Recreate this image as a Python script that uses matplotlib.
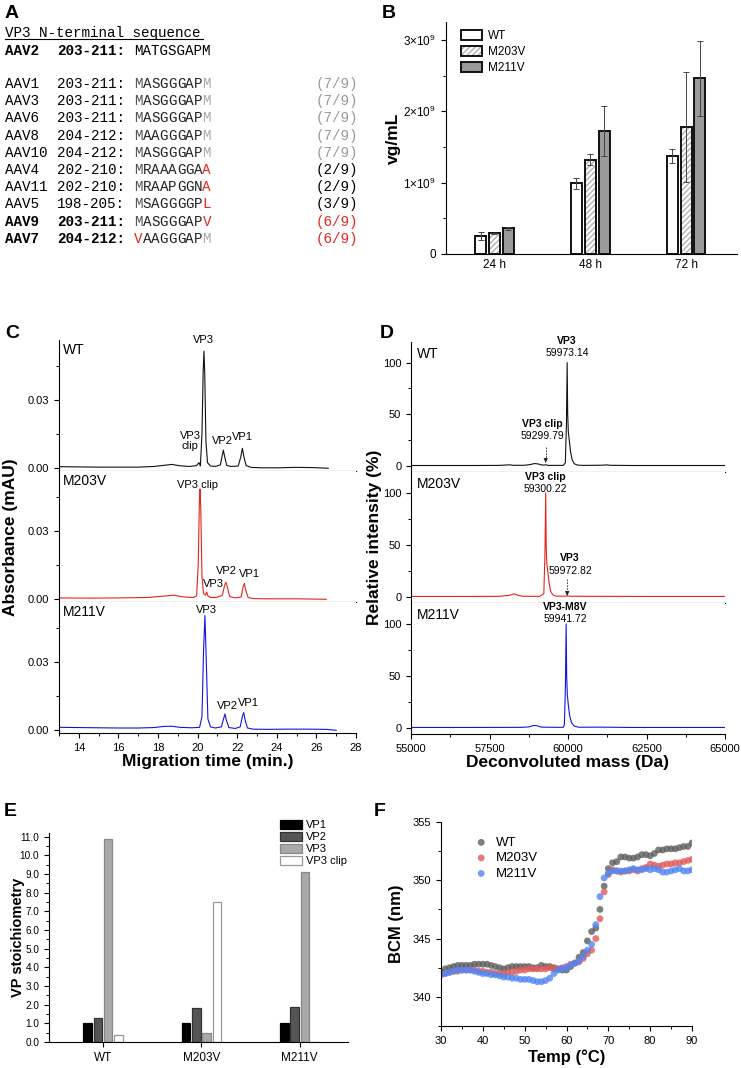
import matplotlib.pyplot as plt
from matplotlib.patches import Patch
from matplotlib.lines import Line2D
from matplotlib.ticker import MultipleLocator, FixedLocator

W, H = 741, 1068
plt.rcParams['font.family'] = ['Liberation Sans', 'DejaVu Sans']
plt.rcParams['mathtext.fontset'] = 'custom'
plt.rcParams['mathtext.rm'] = 'Liberation Sans'
plt.rcParams['mathtext.it'] = 'Liberation Sans:italic'
plt.rcParams['axes.linewidth'] = 0.8

RED = '#e8251f'

# ---------------- data ----------------
# A: VP3 N-terminal sequences
a_names = ['AAV1', 'AAV3', 'AAV6', 'AAV8', 'AAV10', 'AAV4', 'AAV11', 'AAV5', 'AAV9', 'AAV7']
a_ranges = ['203-211:', '203-211:', '203-211:', '204-212:', '204-212:',
            '202-210:', '202-210:', '198-205:', '203-211:', '204-212:']
a_seqs = ['MASGGGAPM', 'MASGGGAPM', 'MASGGGAPM', 'MAAGGGAPM', 'MASGGGAPM',
          'MRAAAGGAA', 'MRAAPGGNA', 'MSAGGGGPL', 'MASGGGAPV', 'VAAGGGAPM']
a_fracs = ['(7/9)', '(7/9)', '(7/9)', '(7/9)', '(7/9)',
           '(2/9)', '(2/9)', '(3/9)', '(6/9)', '(6/9)']

# B: titers
b_times = ['24 h', '48 h', '72 h']
b_wt = [0.25e9, 0.99e9, 1.37e9]
b_wt_err = [0.06e9, 0.08e9, 0.10e9]
b_m203 = [0.29e9, 1.32e9, 1.78e9]
b_m203_err = [0.01e9, 0.08e9, 0.77e9]
b_m211 = [0.36e9, 1.72e9, 2.46e9]
b_m211_err = [0.02e9, 0.35e9, 0.52e9]

# C: CE-SDS electropherograms
c_wt_t = [13.0, 14.0, 15.0, 16.0, 17.0, 17.8, 18.3, 18.7, 19.1, 19.6, 19.95, 20.07, 20.14,
          20.22, 20.28, 20.32, 20.36, 20.42, 20.50, 20.65, 20.9, 21.15, 21.23, 21.30, 21.37,
          21.47, 21.7, 22.05, 22.18, 22.26, 22.34, 22.45, 22.7, 23.2, 24.0, 25.0, 25.8, 26.6]
c_wt_a = [0.0007, 0.0006, 0.0005, 0.0005, 0.0005, 0.0008, 0.0013, 0.0017, 0.0011, 0.0008,
          0.0012, 0.0025, 0.0010, 0.0150, 0.0420, 0.0516, 0.0420, 0.0120, 0.0025, 0.0010,
          0.0008, 0.0015, 0.0050, 0.0080, 0.0050, 0.0012, 0.0008, 0.0010, 0.0050, 0.0088,
          0.0050, 0.0012, 0.0004, 0.0002, 0.0002, 0.0004, 0.0003, 0.0]
c_m203_t = [13.0, 14.5, 16.0, 17.5, 18.3, 18.8, 19.3, 19.8, 19.95, 20.03, 20.09, 20.12, 20.16,
            20.22, 20.30, 20.40, 20.46, 20.52, 20.65, 20.95, 21.25, 21.36, 21.43, 21.50, 21.62,
            21.9, 22.2, 22.30, 22.36, 22.43, 22.55, 22.8, 23.5, 25.0, 26.5]
c_m203_a = [0.0006, 0.0005, 0.0006, 0.0008, 0.0014, 0.0018, 0.0010, 0.0008, 0.0015, 0.0150,
            0.0430, 0.0485, 0.0400, 0.0100, 0.0025, 0.0018, 0.0032, 0.0015, 0.0008, 0.0008,
            0.0018, 0.0060, 0.0075, 0.0055, 0.0012, 0.0006, 0.0010, 0.0055, 0.0070, 0.0040,
            0.0008, 0.0003, 0.0002, 0.0002, 0.0]
c_m211_t = [13.0, 14.0, 15.0, 16.0, 17.0, 17.8, 18.3, 18.7, 19.1, 19.7, 20.1, 20.22, 20.30,
            20.37, 20.44, 20.52, 20.65, 20.9, 21.2, 21.31, 21.38, 21.45, 21.58, 21.9, 22.15,
            22.26, 22.33, 22.40, 22.52, 22.8, 23.5, 24.5, 25.5, 26.5, 27.0]
c_m211_a = [0.0013, 0.0012, 0.0011, 0.0010, 0.0010, 0.0012, 0.0017, 0.0018, 0.0013, 0.0011,
            0.0013, 0.0060, 0.0350, 0.0505, 0.0300, 0.0050, 0.0015, 0.0010, 0.0015, 0.0050,
            0.0072, 0.0045, 0.0012, 0.0008, 0.0015, 0.0060, 0.0078, 0.0045, 0.0010, 0.0005,
            0.0004, 0.0005, 0.0005, 0.0004, 0.0]

# D: deconvoluted mass spectra
d_wt_m = [55000, 56000, 57000, 57800, 58050, 58130, 58250, 58600, 58800, 58930, 59050, 59180,
          59260, 59300, 59360, 59850, 59915, 59950, 59973, 59990, 60010, 60040, 60080, 60130,
          60200, 60300, 60500, 61100, 61230, 61350, 62000, 63000, 64000, 65000]
d_wt_i = [0.3, 0.3, 0.3, 0.4, 0.8, 1.0, 0.5, 0.5, 1.2, 2.2, 1.8, 0.7, 0.8, 1.0, 0.4, 0.4, 3.0,
          40, 100, 50, 33, 25, 14, 6, 2, 0.7, 0.4, 0.6, 0.9, 0.5, 0.3, 0.3, 0.3, 0.3]
d_m203_m = [55000, 56500, 57800, 58150, 58280, 58400, 58550, 59100, 59230, 59265, 59290, 59305,
            59325, 59355, 59395, 59440, 59510, 59600, 59900, 59980, 60100, 61000, 62500, 65000]
d_m203_i = [0.3, 0.3, 0.4, 1.5, 2.8, 1.5, 0.5, 0.4, 3.0, 40, 100, 50, 32, 25, 14, 6, 2, 0.7,
            0.5, 0.8, 0.5, 0.4, 0.3, 0.3]
d_m211_m = [55000, 57000, 58500, 58750, 58900, 59000, 59150, 59700, 59850, 59885, 59918, 59941,
            59958, 59978, 60010, 60050, 60110, 60200, 60350, 61000, 62000, 65000]
d_m211_i = [0.3, 0.3, 0.4, 0.8, 2.2, 2.0, 0.6, 0.4, 0.5, 3.0, 40, 100, 50, 32, 22, 12, 5, 1.5,
            0.5, 0.6, 0.3, 0.3]

# E: stoichiometry
e_groups = ['WT', 'M203V', 'M211V']
e_vp1 = [1.0, 1.0, 1.0]
e_vp2 = [1.3, 1.8, 1.9]
e_vp3 = [10.9, 0.5, 9.1]
e_clip = [0.4, 7.5, 0.0]

# F: BCM vs temperature
f_temp = list(range(30, 91))
f_wt = [342.2, 342.4, 342.5, 342.6, 342.7, 342.7, 342.7, 342.7, 342.8, 342.8, 342.8, 342.8,
        342.7, 342.6, 342.5, 342.4, 342.5, 342.6, 342.6, 342.6, 342.6, 342.6, 342.5, 342.5,
        342.7, 342.6, 342.6, 342.5, 342.4, 342.3, 342.3, 342.6, 342.9, 343.4, 343.8, 344.8,
        345.6, 345.9, 347.5, 349.5, 351.0, 351.5, 351.6, 352.0, 352.0, 351.9, 351.9, 352.0,
        352.2, 352.2, 352.1, 352.3, 352.6, 352.6, 352.7, 352.7, 352.7, 352.8, 352.9, 352.9, 353.2]
f_m203 = [341.9, 342.0, 342.1, 342.2, 342.2, 342.3, 342.3, 342.3, 342.3, 342.2, 342.2, 342.1,
          342.1, 342.0, 342.0, 342.0, 342.1, 342.1, 342.2, 342.3, 342.3, 342.4, 342.4, 342.4,
          342.4, 342.4, 342.5, 342.4, 342.4, 342.5, 342.6, 342.8, 342.9, 343.0, 343.3, 343.7,
          344.0, 345.0, 346.7, 349.0, 350.5, 350.9, 350.8, 350.7, 350.8, 350.8, 350.9, 350.8,
          351.0, 351.1, 351.4, 351.3, 351.2, 351.3, 351.4, 351.4, 351.5, 351.5, 351.6, 351.7, 351.8]
f_m211 = [341.9, 342.0, 342.1, 342.2, 342.3, 342.3, 342.3, 342.3, 342.2, 342.1, 342.0, 342.0,
          341.9, 341.9, 341.8, 341.7, 341.7, 341.6, 341.6, 341.5, 341.5, 341.5, 341.4, 341.3,
          341.3, 341.4, 341.6, 342.0, 342.3, 342.4, 342.5, 342.7, 342.9, 343.1, 343.5, 344.0,
          344.5, 346.2, 348.6, 350.2, 350.6, 350.8, 350.8, 350.8, 350.8, 350.9, 351.0, 350.9,
          350.9, 351.0, 350.9, 351.0, 350.9, 350.7, 350.7, 350.8, 350.9, 351.0, 350.8, 350.8, 350.9]

# ---------------- helpers ----------------
fig = plt.figure(figsize=(W / 100, H / 100), dpi=100)


def add_ax(left, top, right, bottom):
    return fig.add_axes([left / W, 1 - bottom / H, (right - left) / W, (bottom - top) / H])


def ftxt(x, y, s, **kw):
    return fig.text(x / W, 1 - y / H, s, **kw)


def style(ax):
    for s in ['top', 'right']:
        ax.spines[s].set_visible(False)
    ax.tick_params(which='major', direction='out', length=3.5, width=0.8, labelsize=8)
    ax.tick_params(which='minor', direction='out', length=2, width=0.7)


# panel letters
for lx, ly, letter in [(5, 13, 'A'), (382, 13, 'B'), (5, 334, 'C'), (380, 334, 'D'),
                       (4, 811, 'E'), (374, 811, 'F')]:
    ftxt(lx, ly, letter, fontsize=14, fontweight='bold', va='center')

# ---------------- A ----------------
mono = 'Liberation Mono'
fs_a = 10.3
cw = 8.56
ftxt(5, 33, 'VP3 N-terminal sequence', family=mono, fontsize=fs_a, va='center')
fig.add_artist(Line2D([5 / W, 203 / W], [1 - 38.5 / H, 1 - 38.5 / H], color='k', lw=0.8))
ftxt(5, 51, 'AAV2', family=mono, fontsize=fs_a, fontweight='bold', va='center')
ftxt(57, 51, '203-211:', family=mono, fontsize=fs_a, fontweight='bold', va='center')
ftxt(134, 51, 'MATGSGAPM', family=mono, fontsize=fs_a, va='center')

for i, name in enumerate(a_names):
    y = 84 + i * 17.2
    bold = 'bold' if name in ('AAV9', 'AAV7') else 'normal'
    ftxt(5, y, name, family=mono, fontsize=fs_a, fontweight=bold, va='center')
    ftxt(57, y, a_ranges[i], family=mono, fontsize=fs_a, fontweight=bold, va='center')
    seq = a_seqs[i]
    for j, ch in enumerate(seq):
        if j == 0:
            col = RED if ch == 'V' else '#555555'
        elif j == len(seq) - 1:
            col = '#aaaaaa' if ch == 'M' else RED
        else:
            col = '#222222'
        ftxt(134 + j * cw, y, ch, family=mono, fontsize=fs_a, color=col, va='center')
    fr = a_fracs[i]
    fcol = {'(7/9)': '#999999', '(6/9)': RED}.get(fr, 'black')
    ftxt(316, y, fr, family=mono, fontsize=fs_a, color=fcol, va='center')

# ---------------- B ----------------
axb = add_ax(446, 22, 737, 254)
style(axb)
xb = range(len(b_times))
bw, step = 0.115, 0.144
x_wt = [x - step for x in xb]
x_m203 = list(xb)
x_m211 = [x + step for x in xb]
axb.bar(x_wt, b_wt, bw, color='white', edgecolor='#111111', lw=1.4, zorder=2)
axb.bar(x_m203, b_m203, bw, color='white', edgecolor='#b0b0b0', hatch='//////', lw=0, zorder=2)
axb.bar(x_m203, b_m203, bw, color='none', edgecolor='#111111', lw=1.4, zorder=3)
axb.bar(x_m211, b_m211, bw, color='#9a9a9a', edgecolor='#111111', lw=1.4, zorder=2)
for xs, ys, es in [(x_wt, b_wt, b_wt_err), (x_m203, b_m203, b_m203_err), (x_m211, b_m211, b_m211_err)]:
    axb.errorbar(xs, ys, yerr=es, fmt='none', ecolor='#444444', elinewidth=0.7,
                 capsize=2.5, capthick=0.7, zorder=4)
axb.set_xlim(-0.504, 2.53)
axb.set_ylim(0, 3.25e9)
axb.set_xticks(list(xb))
axb.set_xticklabels(b_times, fontsize=8.5)
axb.tick_params(axis='x', length=0)
axb.set_yticks([0, 1e9, 2e9, 3e9])
axb.set_yticklabels(['0', r'$1{\times}10^{9}$', r'$2{\times}10^{9}$', r'$3{\times}10^{9}$'], fontsize=8.5)
axb.yaxis.set_minor_locator(MultipleLocator(0.5e9))
axb.set_ylabel('vg/mL', fontsize=12.5, fontweight='bold', labelpad=2)
h_wt = Patch(facecolor='white', edgecolor='#111111', lw=1.4)
h_m203 = (Patch(facecolor='white', edgecolor='#b0b0b0', hatch='//////', lw=0),
          Patch(facecolor='none', edgecolor='#111111', lw=1.4))
h_m211 = Patch(facecolor='#9a9a9a', edgecolor='#111111', lw=1.4)
axb.legend([h_wt, h_m203, h_m211], ['WT', 'M203V', 'M211V'], loc='upper left',
           bbox_to_anchor=(455 / W, 1 - 24 / H), bbox_transform=fig.transFigure,
           frameon=False, fontsize=8.5, handlelength=1.8, handleheight=0.9,
           handletextpad=0.5, labelspacing=0.35, borderpad=0)

# ---------------- C ----------------
c_rows = [(340, 471), (471, 602), (602, 733)]
c_traces = [(c_wt_t, c_wt_a, '#111111', 'WT'), (c_m203_t, c_m203_a, '#e5241d', 'M203V'),
            (c_m211_t, c_m211_a, '#1414e6', 'M211V')]
c_labels = [
    [('VP3', 20.32, 0.0565), ('VP3\nclip', 19.62, 0.0119), ('VP2', 21.23, 0.0119), ('VP1', 22.29, 0.0137)],
    [('VP3 clip', 19.97, 0.0505), ('VP3', 20.78, 0.0066), ('VP2', 21.48, 0.0123), ('VP1', 22.6, 0.0111)],
    [('VP3', 20.47, 0.0530), ('VP2', 21.53, 0.0107), ('VP1', 22.55, 0.0120)],
]
c_axes = []
for k, (top, bot) in enumerate(c_rows):
    ax = add_ax(59, top, 356, bot)
    style(ax)
    t, a, col, name = c_traces[k]
    ax.plot(t, a, color=col, lw=0.8)
    ax.set_xlim(13, 28)
    ax.set_ylim(-0.0012, 0.0565)
    ax.set_yticks([0.0, 0.03])
    ax.set_yticklabels(['0.00', '0.03'])
    ax.yaxis.set_minor_locator(FixedLocator([0.015, 0.045]))
    ax.xaxis.set_major_locator(MultipleLocator(2))
    ax.xaxis.set_minor_locator(MultipleLocator(1))
    ax.text(0.013, 0.92, name, transform=ax.transAxes, fontsize=10, va='center')
    for s, x, y in c_labels[k]:
        ax.text(x, y, s, fontsize=8, ha='center', va='center', clip_on=False, linespacing=1.0)
    if k < 2:
        ax.tick_params(axis='x', which='both', bottom=False, labelbottom=False)
    c_axes.append(ax)
c_axes[-1].set_xlabel('Migration time (min.)', fontsize=12.5, fontweight='bold', labelpad=1)
ftxt(11, 537, 'Absorbance (mAU)', fontsize=12.5, fontweight='bold', rotation=90,
     ha='center', va='center')

# ---------------- D ----------------
d_rows = [(342, 472), (472, 603), (603, 734)]
d_traces = [(d_wt_m, d_wt_i, '#111111', 'WT'), (d_m203_m, d_m203_i, '#e5241d', 'M203V'),
            (d_m211_m, d_m211_i, '#1414e6', 'M211V')]
d_labels = [
    [('VP3', '59973.14', 59973, 121, 109), ('VP3 clip', '59299.79', 59172, 41, 29)],
    [('VP3 clip', '59300.22', 59268, 115, 104), ('VP3', '59972.82', 60064, 37.5, 25)],
    [('VP3-M8V', '59941.72', 59904, 116, 105)],
]
d_arrows = [[(59290, 18, 3)], [(59975, 17, 1)], []]
d_axes = []
for k, (top, bot) in enumerate(d_rows):
    ax = add_ax(411, top, 725, bot)
    style(ax)
    m, inten, col, name = d_traces[k]
    ax.plot(m, inten, color=col, lw=0.8)
    ax.set_xlim(55000, 65000)
    ax.set_ylim(-6, 120)
    ax.set_yticks([0, 50, 100])
    ax.yaxis.set_minor_locator(FixedLocator([25, 75]))
    ax.xaxis.set_major_locator(MultipleLocator(2500))
    ax.xaxis.set_minor_locator(MultipleLocator(1250))
    ax.text(0.02, 0.91, name, transform=ax.transAxes, fontsize=10, va='center')
    for nm, val, x, y1, y2 in d_labels[k]:
        ax.text(x, y1, nm, fontsize=7.5, fontweight='bold', ha='center', va='center', clip_on=False)
        ax.text(x, y2, val, fontsize=7.5, ha='center', va='center', clip_on=False)
    for x, y0, y1 in d_arrows[k]:
        ax.plot([x, x], [y0, y1 + 3], color='#222222', lw=0.6, ls=(0, (2, 1.5)))
        ax.annotate('', xy=(x, y1), xytext=(x, y1 + 4),
                    arrowprops=dict(arrowstyle='-|>', color='#222222', lw=0.6, mutation_scale=6))
    if k < 2:
        ax.tick_params(axis='x', which='both', bottom=False, labelbottom=False)
    d_axes.append(ax)
d_axes[-1].set_xlabel('Deconvoluted mass (Da)', fontsize=12.5, fontweight='bold', labelpad=1)
ftxt(374, 537, 'Relative intensity (%)', fontsize=12.5, fontweight='bold', rotation=90,
     ha='center', va='center')

# ---------------- E ----------------
axe = add_ax(49, 833, 348, 1042)
style(axe)
ebw, estep = 0.086, 0.105
xe = range(len(e_groups))
e_series = [(e_vp1, 'black', 'black', 'VP1'), (e_vp2, '#555555', '#333333', 'VP2'),
            (e_vp3, '#a9a9a9', '#888888', 'VP3'), (e_clip, 'white', '#999999', 'VP3 clip')]
for i, (vals, fc, ec, lab) in enumerate(e_series):
    xs = [x + (i - 1.5) * estep for x in xe]
    axe.bar(xs, vals, ebw, color=fc, edgecolor=ec, lw=0.9, label=lab)
axe.set_xlim(-0.55, 2.49)
axe.set_ylim(0, 11.2)
axe.set_yticks([v * 1.0 for v in range(12)])
axe.set_yticklabels([f'{v:.1f}' for v in range(12)], fontsize=7.2)
axe.yaxis.set_minor_locator(MultipleLocator(0.5))
axe.set_xticks(list(xe))
axe.set_xticklabels(e_groups, fontsize=8.5)
ftxt(18, 937, 'VP stoichiometry', fontsize=10.5, fontweight='bold', rotation=90,
     ha='center', va='center')
axe.legend(loc='upper left', bbox_to_anchor=(274 / W, 1 - 814 / H), bbox_transform=fig.transFigure,
           frameon=False, fontsize=8, handlelength=2.0, handleheight=0.9, handletextpad=0.4,
           labelspacing=0.15, borderpad=0)

# ---------------- F ----------------
axf = add_ax(441, 822, 692, 1026)
style(axf)
for vals, col, lab in [(f_wt, '#5e5e5e', 'WT'), (f_m203, '#e25a5a', 'M203V'), (f_m211, '#4f86f4', 'M211V')]:
    axf.scatter(f_temp, vals, s=24, color=col, alpha=0.8, edgecolors='none', label=lab)
axf.set_xlim(30, 90)
axf.set_ylim(337.5, 355)
axf.xaxis.set_major_locator(MultipleLocator(10))
axf.xaxis.set_minor_locator(MultipleLocator(5))
axf.set_yticks([340, 345, 350, 355])
axf.yaxis.set_minor_locator(MultipleLocator(2.5))
axf.set_xlabel('Temp (°C)', fontsize=12, fontweight='bold', labelpad=3)
axf.set_ylabel('BCM (nm)', fontsize=12, fontweight='bold', labelpad=6)
axf.legend(loc='upper left', bbox_to_anchor=(468 / W, 1 - 830 / H), bbox_transform=fig.transFigure,
           frameon=False, fontsize=9.5, handlelength=1.0, handletextpad=0.6, labelspacing=0.25,
           borderpad=0, scatterpoints=1)

fig.savefig('out.png', dpi=100)
